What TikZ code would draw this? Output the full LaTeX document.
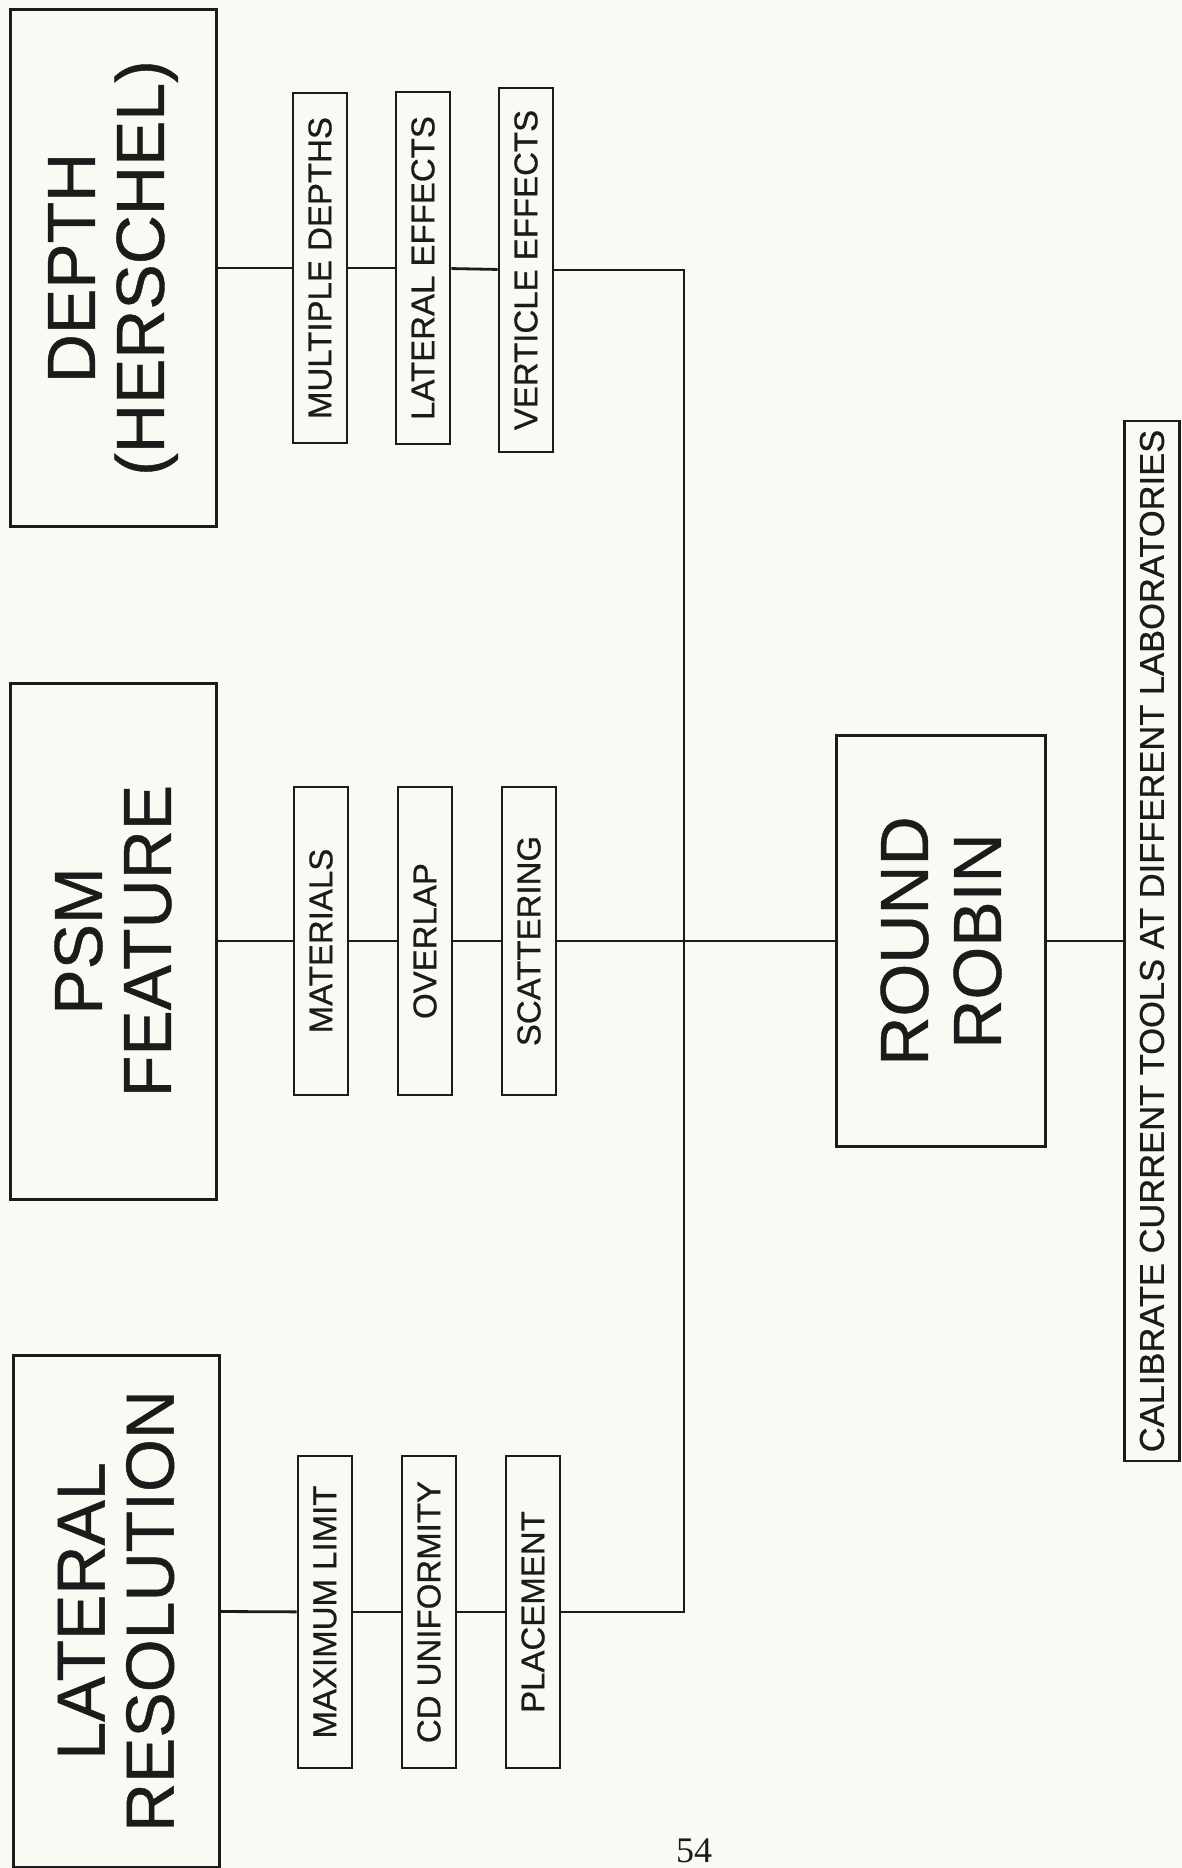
\documentclass[tikz,border=0pt]{standalone}
\usepackage{fontspec}
\setmainfont{Liberation Sans}[FakeBold=0.6]
\newfontfamily\pagefont{Liberation Serif}
\usetikzlibrary{positioning}
\definecolor{paper}{RGB}{250,249,244}
\definecolor{ink}{RGB}{28,26,26}
\tikzset{x=1pt, y=-1pt,
    every node/.style={text=ink},
    bigbox/.style={draw=ink, line width=3pt, rotate=90, align=center, inner sep=0pt,
        minimum width=516pt, minimum height=206pt,
        font=\fontsize{68}{69}\selectfont},
    subbox/.style={draw=ink, line width=2.8pt, rotate=90, inner sep=0pt,
        minimum height=54pt, font=\fontsize{33}{33}\selectfont},
    link/.style={draw=ink, line width=2.8pt},
    }
\begin{document}
\begin{tikzpicture}
\fill[paper] (0,0) rectangle (1182,1868);
\useasboundingbox (0,0) rectangle (1182,1868);
% depth branch
\node[bigbox] (dep) at (113,268) {DEPTH\\(HERSCHEL)};
\node[subbox, minimum width=350pt] (md) at (320,268) {MULTIPLE DEPTHS};
\node[subbox, minimum width=352pt] (le) at (423,268) {LATERAL EFFECTS};
\node[subbox, minimum width=364pt] (ve) at (526,270) {VERTICLE EFFECTS};
% psm branch
\node[bigbox] (psm) at (113,941) {PSM\\FEATURE};
\node[subbox, minimum width=308pt] (mat) at (321,941) {MATERIALS};
\node[subbox, minimum width=308pt] (ovl) at (425,941) {OVERLAP};
\node[subbox, minimum width=308pt] (sca) at (529,941) {SCATTERING};
% lateral branch
\node[bigbox, minimum width=512pt] (lat) at (116,1611) {LATERAL\\RESOLUTION};
\node[subbox, minimum width=312pt] (max) at (325,1612) {MAXIMUM LIMIT};
\node[subbox, minimum width=312pt] (cdu) at (429,1612) {CD UNIFORMITY};
\node[subbox, minimum width=312pt] (pla) at (533,1612) {PLACEMENT};
% round robin
\node[bigbox, minimum width=411pt, minimum height=209pt, font=\fontsize{68}{73}\selectfont]
    (rr) at (941,941) {ROUND\\ROBIN};
\node[draw=ink, line width=2.8pt, rotate=90, inner sep=0pt, minimum width=1040pt,
    minimum height=55pt, font=\fontsize{34.5}{34.5}\selectfont]
    (cal) at (1152,941) {CALIBRATE CURRENT TOOLS AT DIFFERENT LABORATORIES};
\coordinate (trunk) at (684,941);
\node[font=\pagefont\fontsize{36}{36}\selectfont, anchor=base, inner sep=0pt] (pg) at (694,1862) {54};
% connectors
\draw[link] (dep) -- (md);
\draw[link] (md) -- (le);
\draw[link] (le) -- (ve);
\draw[link] (ve) -- (ve -| trunk) -- (pla -| trunk) -- (pla);
\draw[link] (psm) -- (mat);
\draw[link] (mat) -- (ovl);
\draw[link] (ovl) -- (sca);
\draw[link] (sca) -- (rr);
\draw[link] (lat) -- (max);
\draw[link] (max) -- (cdu);
\draw[link] (cdu) -- (pla);
\draw[link] (rr) -- (cal);
\end{tikzpicture}
\end{document}
